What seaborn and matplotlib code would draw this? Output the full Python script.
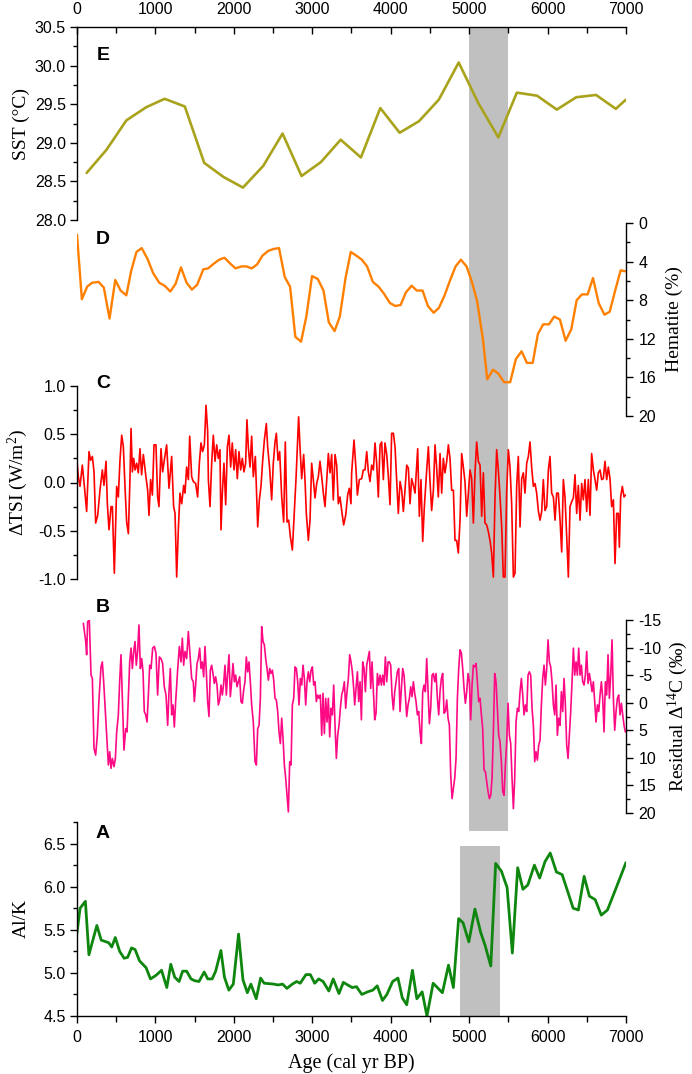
import seaborn as sns
import matplotlib.pyplot as plt
from matplotlib.ticker import MultipleLocator

W, H = 692, 1074
LEFT, RIGHT = 77, 626
X_MAX = 7000

# E: SST (deg C)
sst_age = [123, 376, 629, 881, 1117, 1375, 1622, 1864, 2116, 2374,
           2621, 2863, 3110, 3362, 3620, 3867, 4114, 4361, 4614, 4867,
           5119, 5372, 5608, 5866, 6118, 6365, 6618, 6870, 7000]
sst = [28.61, 28.91, 29.29, 29.46, 29.57, 29.47, 28.74, 28.56, 28.42, 28.70,
       29.12, 28.57, 28.75, 29.04, 28.81, 29.45, 29.13, 29.28, 29.56, 30.04,
       29.51, 29.07, 29.65, 29.61, 29.43, 29.59, 29.62, 29.44, 29.56]

# D: hematite (%)
hem_age = [0, 62, 129, 191, 275, 342, 415, 488, 556, 629,
           690, 758, 825, 898, 971, 1050, 1117, 1190, 1257, 1325,
           1398, 1465, 1532, 1611, 1673, 1746, 1813, 1880, 1953, 2021,
           2094, 2161, 2228, 2296, 2363, 2436, 2503, 2576, 2649, 2717,
           2784, 2857, 2924, 2997, 3070, 3143, 3211, 3284, 3351, 3424,
           3491, 3564, 3632, 3699, 3772, 3845, 3912, 3991, 4058, 4126,
           4193, 4266, 4333, 4406, 4474, 4547, 4614, 4687, 4754, 4827,
           4895, 4967, 5035, 5102, 5175, 5231, 5304, 5372, 5445, 5523,
           5596, 5669, 5737, 5810, 5877, 5944, 6017, 6085, 6157, 6230,
           6303, 6371, 6438, 6511, 6579, 6652, 6725, 6792, 6865, 6932, 6990]
hematite = [1.2, 7.9, 6.6, 6.2, 6.1, 6.7, 9.9, 5.9, 7.0, 7.5,
            5.0, 3.0, 2.6, 3.7, 5.2, 6.2, 6.5, 7.1, 6.3, 4.6,
            6.2, 6.9, 6.4, 4.8, 4.7, 4.2, 3.8, 3.6, 4.2, 4.7,
            4.5, 4.5, 4.7, 4.3, 3.4, 2.9, 2.7, 2.6, 5.6, 6.6,
            11.8, 12.3, 9.7, 5.5, 5.8, 7.0, 10.3, 11.2, 9.7, 5.7,
            3.0, 3.4, 3.8, 4.5, 6.1, 6.6, 7.3, 8.3, 8.6, 8.5,
            7.2, 6.5, 7.0, 7.0, 8.6, 9.3, 8.8, 7.5, 6.0, 4.5,
            3.8, 4.5, 6.1, 8.1, 12.0, 16.2, 15.2, 15.6, 16.5, 16.5,
            14.1, 13.3, 14.5, 14.5, 11.5, 10.5, 10.5, 9.7, 10.0, 12.2,
            11.0, 8.0, 7.4, 7.4, 5.7, 8.3, 9.5, 9.2, 6.9, 4.9, 5.0]

# C: delta TSI (W/m2)
tsi_age = [0, 17, 38, 68, 94, 123, 153, 174, 196, 217,
           238, 264, 293, 323, 344, 370, 387, 408, 434, 451,
           476, 506, 527, 548, 570, 591, 612, 633, 655, 676,
           689, 706, 723, 740, 761, 782, 803, 824, 846, 876,
           901, 918, 939, 961, 982, 1007, 1028, 1045, 1071, 1092,
           1113, 1143, 1173, 1207, 1232, 1250, 1271, 1292, 1313, 1335,
           1360, 1377, 1398, 1420, 1437, 1462, 1483, 1513, 1538, 1560,
           1581, 1602, 1624, 1645, 1666, 1675, 1696, 1717, 1738, 1760,
           1781, 1802, 1823, 1836, 1853, 1874, 1896, 1917, 1938, 1959,
           1980, 2002, 2023, 2044, 2065, 2087, 2108, 2129, 2150, 2167,
           2184, 2206, 2227, 2248, 2274, 2304, 2325, 2346, 2367, 2389,
           2414, 2431, 2456, 2482, 2503, 2525, 2542, 2563, 2584, 2610,
           2635, 2656, 2678, 2699, 2720, 2746, 2771, 2792, 2813, 2826,
           2843, 2865, 2890, 2907, 2924, 2950, 2971, 2992, 3013, 3035,
           3056, 3077, 3098, 3120, 3141, 3162, 3183, 3205, 3226, 3247,
           3268, 3290, 3311, 3332, 3353, 3375, 3400, 3426, 3451, 3472,
           3493, 3502, 3532, 3558, 3575, 3600, 3630, 3651, 3672, 3694,
           3715, 3736, 3757, 3779, 3800, 3821, 3842, 3864, 3885, 3906,
           3927, 3949, 3970, 3991, 4012, 4034, 4055, 4076, 4097, 4119,
           4140, 4161, 4182, 4204, 4225, 4246, 4267, 4289, 4310, 4344,
           4365, 4386, 4408, 4429, 4459, 4480, 4501, 4522, 4544, 4565,
           4586, 4607, 4629, 4650, 4671, 4692, 4714, 4735, 4756, 4777,
           4799, 4820, 4841, 4862, 4884, 4905, 4926, 4947, 4969, 4990,
           5011, 5032, 5054, 5075, 5096, 5117, 5139, 5160, 5181, 5202,
           5224, 5245, 5266, 5287, 5309, 5330, 5351, 5372, 5394, 5415,
           5436, 5457, 5479, 5500, 5521, 5542, 5564, 5585, 5606, 5627,
           5649, 5670, 5691, 5712, 5734, 5755, 5776, 5797, 5819, 5840,
           5861, 5882, 5904, 5925, 5946, 5967, 5989, 6010, 6031, 6052,
           6074, 6095, 6116, 6137, 6159, 6180, 6201, 6222, 6244, 6265,
           6286, 6307, 6329, 6350, 6371, 6392, 6414, 6435, 6456, 6477,
           6499, 6520, 6541, 6562, 6584, 6605, 6626, 6647, 6669, 6690,
           6711, 6732, 6754, 6775, 6796, 6817, 6839, 6860, 6881, 6902,
           6915, 6932, 6953, 6975, 6992]
tsi = [0.22, 0.06, -0.04, 0.18, -0.04, -0.30, 0.32, 0.23, 0.27, 0.11,
       -0.42, -0.34, -0.08, 0.13, -0.03, 0.22, -0.22, -0.49, -0.25, -0.25,
       -0.94, -0.04, -0.15, 0.23, 0.49, 0.37, -0.04, -0.41, -0.53, 0.06,
       0.56, 0.11, 0.25, 0.13, 0.20, 0.10, 0.35, 0.08, 0.29, 0.08,
       -0.08, -0.34, 0.03, -0.13, 0.39, 0.39, -0.15, -0.25, 0.35, 0.11,
       0.23, 0.39, -0.06, 0.27, -0.25, -0.32, -0.98, -0.49, -0.11, -0.22,
       -0.03, -0.11, 0.16, 0.03, 0.48, 0.06, 0.01, -0.01, -0.15, 0.20,
       0.41, 0.32, 0.39, 0.80, 0.53, 0.03, -0.25, 0.20, 0.49, 0.22,
       0.39, 0.25, 0.34, -0.49, -0.11, 0.20, -0.23, 0.37, 0.49, 0.16,
       0.41, 0.13, 0.34, 0.04, 0.32, 0.13, 0.25, 0.11, 0.20, 0.65,
       0.37, 0.16, 0.48, 0.06, 0.27, -0.46, -0.18, -0.04, 0.22, 0.44,
       0.61, 0.37, 0.15, -0.18, 0.20, 0.42, 0.51, 0.23, 0.32, -0.15,
       -0.41, 0.42, -0.41, -0.39, -0.56, -0.70, -0.30, 0.03, 0.44, 0.68,
       0.37, 0.04, 0.29, 0.03, -0.32, -0.60, -0.39, 0.20, 0.03, -0.16,
       -0.01, 0.06, 0.22, 0.06, -0.11, -0.25, 0.01, 0.30, 0.10, 0.29,
       -0.18, 0.29, 0.18, -0.22, -0.15, -0.29, -0.44, -0.34, -0.13, -0.06,
       -0.22, 0.10, 0.44, 0.13, -0.13, 0.03, 0.04, 0.13, 0.13, 0.32,
       0.11, 0.01, 0.18, 0.13, 0.41, 0.20, -0.15, 0.39, 0.42, 0.03,
       0.41, 0.29, 0.06, -0.23, 0.51, 0.51, 0.37, 0.03, -0.32, 0.01,
       -0.08, -0.30, -0.08, 0.18, 0.15, -0.22, 0.04, -0.03, -0.11, 0.35,
       -0.35, 0.03, -0.61, -0.25, 0.13, 0.37, 0.01, -0.29, -0.08, 0.39,
       0.15, -0.15, 0.30, -0.11, 0.25, 0.10, 0.22, 0.39, 0.25, -0.08,
       -0.08, -0.60, -0.60, -0.73, -0.39, 0.30, 0.16, 0.01, -0.35, -0.11,
       0.13, 0.04, -0.42, 0.11, 0.42, 0.22, 0.18, -0.35, 0.10, -0.42,
       -0.44, -0.51, -0.60, -0.73, -0.98, -0.15, 0.34, 0.13, -0.15, -0.46,
       -0.98, -0.98, -0.08, 0.34, 0.16, -0.22, -0.98, -0.94, -0.04, 0.27,
       -0.46, 0.04, 0.10, -0.11, 0.20, 0.27, 0.42, 0.16, -0.04, -0.01,
       -0.11, -0.29, -0.39, -0.30, 0.03, -0.29, -0.25, 0.13, 0.27, -0.11,
       -0.15, -0.39, -0.11, -0.11, -0.39, -0.72, 0.03, -0.15, -0.56, -0.98,
       -0.25, -0.20, -0.16, 0.08, -0.32, -0.03, -0.39, -0.01, -0.18, 0.03,
       -0.30, 0.03, -0.34, 0.30, 0.13, 0.03, -0.08, 0.10, 0.13, 0.03,
       0.04, 0.22, 0.03, 0.16, 0.04, -0.25, -0.18, -0.84, -0.32, -0.32,
       -0.67, -0.15, -0.04, -0.15, -0.13]

# B: residual delta 14C (permil)
c14_age = [81, 111, 123, 136, 157, 179, 196, 217, 238, 259,
           281, 306, 323, 340, 357, 378, 400, 417, 434, 451,
           472, 489, 506, 527, 544, 561, 578, 599, 621, 638,
           655, 672, 689, 706, 723, 740, 756, 773, 790, 808,
           825, 842, 858, 876, 893, 910, 927, 944, 965, 986,
           1007, 1028, 1050, 1071, 1092, 1113, 1135, 1156, 1173, 1190,
           1207, 1224, 1241, 1258, 1283, 1305, 1326, 1343, 1360, 1377,
           1398, 1420, 1441, 1462, 1483, 1496, 1513, 1530, 1547, 1564,
           1581, 1598, 1615, 1632, 1649, 1666, 1683, 1700, 1717, 1734,
           1751, 1768, 1785, 1802, 1819, 1836, 1853, 1870, 1887, 1904,
           1921, 1938, 1955, 1972, 1989, 2006, 2023, 2040, 2057, 2074,
           2091, 2108, 2125, 2142, 2159, 2176, 2193, 2210, 2227, 2248,
           2270, 2287, 2304, 2321, 2338, 2355, 2372, 2389, 2406, 2423,
           2440, 2457, 2474, 2491, 2508, 2525, 2542, 2559, 2576, 2593,
           2610, 2627, 2644, 2661, 2678, 2695, 2712, 2729, 2746, 2763,
           2780, 2797, 2814, 2831, 2848, 2865, 2882, 2899, 2916, 2933,
           2950, 2967, 2984, 3001, 3018, 3035, 3052, 3069, 3086, 3103,
           3120, 3137, 3154, 3171, 3188, 3205, 3222, 3239, 3256, 3273,
           3290, 3307, 3324, 3341, 3358, 3375, 3392, 3409, 3426, 3443,
           3460, 3477, 3494, 3511, 3528, 3541, 3558, 3575, 3592, 3609,
           3626, 3643, 3660, 3677, 3694, 3711, 3728, 3745, 3762, 3779,
           3796, 3813, 3830, 3847, 3864, 3881, 3898, 3915, 3932, 3949,
           3966, 3983, 4000, 4017, 4034, 4051, 4068, 4085, 4102, 4119,
           4136, 4153, 4170, 4187, 4204, 4221, 4238, 4255, 4272, 4289,
           4306, 4323, 4340, 4357, 4374, 4391, 4408, 4425, 4442, 4459,
           4476, 4493, 4510, 4527, 4544, 4561, 4578, 4595, 4612, 4629,
           4646, 4663, 4680, 4697, 4714, 4731, 4748, 4765, 4782, 4799,
           4816, 4833, 4850, 4867, 4884, 4901, 4918, 4935, 4952, 4969,
           4986, 5003, 5020, 5037, 5054, 5071, 5088, 5105, 5122, 5139,
           5156, 5173, 5190, 5207, 5224, 5241, 5258, 5275, 5292, 5309,
           5326, 5343, 5360, 5377, 5394, 5411, 5428, 5445, 5462, 5479,
           5496, 5513, 5530, 5547, 5564, 5581, 5598, 5615, 5632, 5649,
           5666, 5683, 5700, 5717, 5734, 5751, 5768, 5785, 5802, 5819,
           5836, 5853, 5870, 5887, 5904, 5921, 5938, 5955, 5972, 5989,
           6006, 6023, 6040, 6057, 6074, 6091, 6108, 6125, 6142, 6159,
           6176, 6193, 6210, 6227, 6244, 6261, 6278, 6295, 6312, 6329,
           6346, 6363, 6380, 6397, 6414, 6431, 6448, 6465, 6482, 6499,
           6516, 6533, 6550, 6567, 6584, 6601, 6618, 6635, 6652, 6669,
           6686, 6703, 6720, 6737, 6754, 6771, 6788, 6805, 6822, 6839,
           6856, 6873, 6890, 6907, 6924, 6941, 6958, 6975, 6992]
c14 = [-14.4, -11.1, -8.7, -14.7, -15.0, -5.0, -4.4, 8.3, 9.5, 5.9,
       -0.8, -6.5, -7.4, -3.8, 0.4, 5.9, 11.3, 8.9, 11.9, 10.1,
       11.6, 10.1, 5.3, 2.2, -3.8, -8.7, -0.8, 8.6, 4.7, 5.3,
       -0.8, -7.4, -9.9, -6.2, -9.3, -11.1, -6.8, -9.3, -14.1, -6.2,
       -8.0, -5.6, 1.6, 2.2, 3.5, -1.4, -6.8, -6.2, -9.9, -10.2,
       -9.0, -1.4, -8.3, -8.0, -7.1, -2.9, -1.4, 4.1, -2.0, -6.2,
       2.2, 0.4, 4.4, -0.2, -5.9, -10.2, -7.4, -11.7, -6.8, -9.3,
       -8.0, -12.9, -8.7, -4.4, -3.8, -0.2, -3.2, -7.1, -8.0, -9.9,
       -6.2, -7.4, -4.7, -10.2, -5.6, -0.2, 2.5, -5.9, -6.8, -5.3,
       -3.5, -4.7, -3.2, 0.4, -0.5, -3.2, -1.4, -3.5, -6.8, -1.4,
       -5.3, -8.7, -1.1, -3.8, -7.1, -3.8, -5.0, -2.9, -3.8, -4.7,
       -0.2, 0.1, -2.3, -3.8, -8.3, -5.6, -7.4, -3.8, 0.4, 3.5,
       10.7, 11.3, 4.7, 4.1, -0.8, -13.8, -11.1, -10.5, -8.0, -6.2,
       -4.1, -6.2, -5.3, -5.9, -4.1, -0.8, -0.5, 1.6, 5.3, 7.4,
       2.8, 6.5, 11.3, 13.7, 16.8, 19.8, 10.7, 11.3, 0.4, -0.8,
       -6.5, -6.2, -3.8, 0.4, -4.4, -3.2, -6.8, -4.4, 0.4, -3.8,
       -5.6, -3.8, -5.9, -6.5, -3.2, -3.8, -0.2, -1.4, -0.8, -1.4,
       5.9, -1.7, 5.6, -0.8, 3.5, -0.8, 6.2, 1.0, 2.2, -3.2,
       4.1, 10.1, 5.9, 4.1, 1.0, -1.4, -2.3, -3.8, 1.0, -2.0,
       -4.4, -8.7, -7.4, -5.6, -2.6, 0.4, -2.6, -5.6, -0.2, -3.8,
       3.1, -7.4, -6.2, -2.0, -6.8, -8.0, -9.3, -2.6, -7.4, -2.0,
       3.1, 1.9, -5.3, -3.2, -5.0, -3.2, -5.0, -3.2, -8.3, -3.8,
       -7.4, -7.4, -6.8, -1.4, 1.3, -2.0, -3.8, -5.6, -6.2, 1.6,
       -2.6, -6.2, -5.0, -1.4, 2.5, 0.4, -0.8, -2.9, -1.1, -3.8,
       -1.7, -0.2, 2.2, 1.6, 5.3, 7.4, -2.0, -3.2, -2.0, -8.0,
       -2.0, 3.8, 1.0, -5.0, -5.3, -3.8, -5.3, -0.8, 2.2, -2.0,
       -4.4, -5.3, 1.9, 1.6, -0.5, 2.8, 4.1, 13.1, 17.4, 15.5,
       13.7, 10.1, -0.8, -6.2, -9.6, -9.0, -6.2, -2.6, 0.1, -2.0,
       -5.3, -3.8, 3.1, -3.2, -6.8, -6.5, -7.1, -3.8, -0.2, -0.8,
       2.2, 4.7, 12.2, 12.5, 14.3, 16.1, 17.4, 16.8, 13.7, 5.3,
       -5.3, -3.8, 1.0, 5.9, 7.1, 10.7, 16.1, 16.8, 11.3, 7.1,
       0.1, 5.9, 7.4, 13.7, 19.2, 13.7, 3.5, 1.0, 1.6, -2.0,
       -4.4, -1.4, 2.2, 0.4, 1.6, -5.0, -5.6, -5.0, 1.0, 4.1,
       10.7, 8.9, 10.4, 7.7, 6.8, 0.4, -4.4, -6.8, -3.2, -6.2,
       -11.4, -7.4, -6.5, -3.8, 0.4, 2.2, -3.2, 5.9, 2.8, 4.1,
       -2.0, 1.6, -4.4, 0.4, 7.7, 10.1, 5.9, 1.6, -3.8, -9.9,
       -5.0, -7.4, -5.0, -9.9, -5.0, -6.8, -3.8, -3.2, -5.0, -9.3,
       -3.5, -5.3, -3.8, -2.0, -3.8, -0.2, 3.5, 0.4, 1.6, -1.4,
       -3.8, -0.8, 5.3, -3.8, -1.4, -8.7, -0.8, -5.0, -11.4, -0.8,
       5.0, 1.6, -0.8, -1.4, 2.2, 0.1, 2.2, 4.1, 5.3]

# A: Al/K
alk_age = [0, 39, 107, 152, 253, 309, 404, 443, 488, 544,
           601, 645, 696, 741, 797, 881, 937, 1005, 1078, 1145,
           1196, 1246, 1302, 1347, 1398, 1454, 1499, 1555, 1622, 1667,
           1723, 1768, 1835, 1880, 1936, 1993, 2060, 2116, 2172, 2217,
           2285, 2341, 2386, 2509, 2565, 2621, 2677, 2745, 2801, 2846,
           2919, 2975, 3031, 3082, 3138, 3211, 3267, 3340, 3396, 3452,
           3508, 3564, 3632, 3705, 3772, 3828, 3895, 3951, 4025, 4092,
           4148, 4204, 4277, 4333, 4401, 4462, 4541, 4659, 4737, 4799,
           4866, 4923, 4996, 5074, 5147, 5203, 5276, 5338, 5411, 5484,
           5551, 5619, 5686, 5748, 5832, 5899, 5967, 6034, 6113, 6186,
           6258, 6326, 6393, 6466, 6533, 6607, 6685, 6764, 6859, 7000]
alk = [5.46, 5.75, 5.83, 5.21, 5.55, 5.38, 5.35, 5.30, 5.41, 5.25,
       5.17, 5.18, 5.29, 5.27, 5.14, 5.06, 4.93, 4.97, 5.03, 4.83,
       5.10, 4.95, 4.90, 5.02, 5.02, 4.93, 4.91, 4.90, 5.01, 4.93,
       4.93, 5.02, 5.26, 4.95, 4.80, 4.87, 5.45, 4.92, 4.77, 4.87,
       4.70, 4.94, 4.88, 4.87, 4.86, 4.87, 4.82, 4.87, 4.90, 4.88,
       4.98, 4.98, 4.88, 4.93, 4.90, 4.79, 4.93, 4.76, 4.89, 4.86,
       4.83, 4.84, 4.75, 4.78, 4.80, 4.85, 4.68, 4.75, 4.90, 4.94,
       4.71, 4.63, 5.03, 4.70, 4.78, 4.50, 4.88, 4.77, 5.09, 4.83,
       5.63, 5.58, 5.36, 5.74, 5.47, 5.32, 5.08, 6.27, 6.18, 5.99,
       5.23, 6.22, 5.97, 6.02, 6.25, 6.10, 6.29, 6.39, 6.17, 6.14,
       5.94, 5.75, 5.73, 6.12, 5.89, 5.85, 5.67, 5.73, 5.95, 6.28]

BAND_UPPER = (5000, 5500)
BAND_A = (4880, 5390)
BAND_A_TOP = 6.47
GREY = '#c0c0c0'

SERIF = ['Liberation Serif', 'DejaVu Serif']
LABEL_FONT = dict(family=SERIF, size=14)

sns.set_theme(style='ticks')
plt.rcParams['font.family'] = ['Liberation Sans', 'DejaVu Sans']
plt.rcParams['axes.unicode_minus'] = False
plt.rcParams['mathtext.fontset'] = 'custom'
plt.rcParams['mathtext.rm'] = 'Liberation Serif'
plt.rcParams['mathtext.it'] = 'Liberation Serif:italic'
plt.rcParams['mathtext.bf'] = 'Liberation Serif:bold'
for key in ['axes.edgecolor', 'xtick.color', 'ytick.color', 'text.color', 'axes.labelcolor']:
    plt.rcParams[key] = 'black'

fig = plt.figure(figsize=(W / 100, H / 100), dpi=100)


def add_panel(top, bottom):
    ax = fig.add_axes([LEFT / W, 1 - bottom / H, (RIGHT - LEFT) / W, (bottom - top) / H])
    ax.set_facecolor('none')
    for s in ax.spines.values():
        s.set_visible(False)
        s.set_linewidth(1.0)
    return ax


def style_y(ax, side, major, minor, label, label_x):
    ax.spines[side].set_visible(True)
    if side == 'right':
        ax.yaxis.tick_right()
        ax.yaxis.set_label_position('right')
    ax.yaxis.set_major_locator(MultipleLocator(major))
    ax.yaxis.set_minor_locator(MultipleLocator(minor))
    ax.tick_params(axis='y', which='both', direction='out', labelsize=11.5,
                   pad=3 if side == 'left' else 4, width=1.0)
    ax.tick_params(axis='y', which='major', length=5)
    ax.tick_params(axis='y', which='minor', length=3)
    ax.set_ylabel(label, fontdict=LABEL_FONT)
    ax.yaxis.set_label_coords(label_x, 0.5)


def plot_series(ax, x, y, color, lw):
    sns.lineplot(x=x, y=y, ax=ax, color=color, linewidth=lw,
                 estimator=None, sort=False, legend=False)
    ax.set_xlim(0, X_MAX)
    ax.set_xlabel('')


# grey band behind the upper four records
band_ax = add_panel(27, 831)
band_ax.set_xlim(0, X_MAX)
band_ax.axvspan(*BAND_UPPER, color=GREY, lw=0)
band_ax.axis('off')

# E
ax_e = add_panel(27, 220)
plot_series(ax_e, sst_age, sst, '#a9a31c', 1.9)
ax_e.set_ylim(28.0, 30.5)
style_y(ax_e, 'left', 0.5, 0.25, 'SST (°C)', -0.086)
ax_e.spines['top'].set_visible(True)
ax_e.xaxis.tick_top()
ax_e.xaxis.set_major_locator(MultipleLocator(1000))
ax_e.xaxis.set_minor_locator(MultipleLocator(500))
ax_e.tick_params(axis='x', which='both', direction='in', labelsize=11.5,
                 top=True, bottom=False, labeltop=True, labelbottom=False, pad=7, width=1.0)
ax_e.tick_params(axis='x', which='major', length=5)
ax_e.tick_params(axis='x', which='minor', length=4)

# D
ax_d = add_panel(223, 416)
plot_series(ax_d, hem_age, hematite, '#ff8000', 1.7)
ax_d.set_ylim(20, 0)
style_y(ax_d, 'right', 4, 2, 'Hematite (%)', 1.072)
ax_d.tick_params(axis='x', which='both', bottom=False, top=False, labelbottom=False)

# C
ax_c = add_panel(386, 579)
plot_series(ax_c, tsi_age, tsi, '#ff0000', 1.2)
ax_c.set_ylim(-1.0, 1.0)
style_y(ax_c, 'left', 0.5, 0.25, 'ΔTSI (W/m$^{2}$)', -0.086)
ax_c.tick_params(axis='x', which='both', bottom=False, top=False, labelbottom=False)

# B
ax_b = add_panel(620, 813)
plot_series(ax_b, c14_age, c14, '#ff0a85', 1.2)
ax_b.set_ylim(20, -15)
style_y(ax_b, 'right', 5, 2.5, 'Residual Δ$^{\\mathrm{14}}$C (‰)', 1.072)
ax_b.tick_params(axis='x', which='both', bottom=False, top=False, labelbottom=False)

# A
ax_a = add_panel(822, 1016)
ax_a.fill_between(list(BAND_A), 4.5, BAND_A_TOP, color=GREY, lw=0, zorder=0)
plot_series(ax_a, alk_age, alk, '#0f870f', 2.0)
ax_a.set_ylim(4.5, 6.75)
style_y(ax_a, 'left', 0.5, 0.25, 'Al/K', -0.086)
ax_a.spines['bottom'].set_visible(True)
ax_a.xaxis.set_major_locator(MultipleLocator(1000))
ax_a.xaxis.set_minor_locator(MultipleLocator(500))
ax_a.tick_params(axis='x', which='both', direction='out', labelsize=11.5, pad=5, width=1.0)
ax_a.tick_params(axis='x', which='major', length=5)
ax_a.tick_params(axis='x', which='minor', length=4)
ax_a.set_xlabel('Age (cal yr BP)', fontdict=dict(family=SERIF, size=14.5))
ax_a.xaxis.set_label_coords(0.5, -0.19)

for letter, ypx in [('E', 55), ('D', 239), ('C', 383), ('B', 607), ('A', 833)]:
    fig.text(103 / W, 1 - ypx / H, letter, fontsize=14, fontweight='bold',
             ha='center', va='center')

fig.savefig('out.png', dpi=100)
